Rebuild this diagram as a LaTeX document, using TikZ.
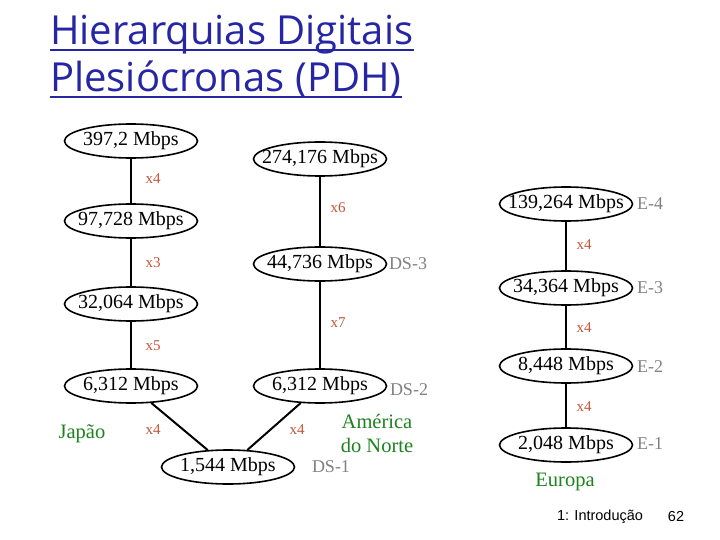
\documentclass[tikz,border=0pt]{standalone}
\usepackage{fontspec}
\setmainfont{Liberation Serif}
\newfontfamily\titlefont{Open Sans}
\newfontfamily\footfont{Liberation Sans}
\usetikzlibrary{shapes.geometric}
\definecolor{titleblue}{RGB}{38,38,165}
\definecolor{mulcol}{RGB}{195,85,55}
\definecolor{stdgray}{RGB}{130,130,130}
\definecolor{regiongreen}{RGB}{30,130,30}
\tikzset{
  rate/.style={ellipse, draw=black, line width=1.6pt, minimum width=133pt, minimum height=34pt, inner xsep=-12pt, inner ysep=-3pt, font=\fontsize{20}{22}\selectfont},
  link/.style={line width=2pt},
  mult/.style={text=mulcol, font=\fontsize{15}{17}\selectfont, inner sep=0pt},
  stdname/.style={text=stdgray, font=\fontsize{18}{20}\selectfont, inner sep=0pt},
  region/.style={text=regiongreen, font=\fontsize{20.5}{24}\selectfont, inner sep=0pt, align=center},
  ttl/.style={text=titleblue, font=\titlefont\fontsize{40}{44}\selectfont, inner sep=0pt, anchor=base west},
  foot/.style={font=\footfont\fontsize{14.5}{16}\selectfont, inner sep=0pt}
}
\begin{document}
\begin{tikzpicture}[x=1pt,y=-1pt]
\useasboundingbox (0,0) rectangle (720,540);
\fill[white] (0,0) rectangle (720,540);
% title
\node[ttl] (t1) at (50,45) {Hierarquias Digitais};
\node[ttl] (t2) at (50,92) {Plesiócronas (PDH)};
\draw[titleblue, line width=2pt] ([yshift=-5pt]t1.base west) -- ([yshift=-5pt]t1.base east);
\draw[titleblue, line width=2pt] ([yshift=-5pt]t2.base west) -- ([yshift=-5pt]t2.base east);
% Japan column
\node[rate] (j4) at (131,141) {397,2 Mbps};
\node[rate] (j3) at (131,221) {97,728 Mbps};
\node[rate] (j2) at (131,304) {32,064 Mbps};
\node[rate] (j1) at (131,386) {6,312 Mbps};
% North America column
\node[rate] (a3) at (320,159) {274,176 Mbps};
\node[rate] (a2) at (320,264) {44,736 Mbps};
\node[rate] (a1) at (320,386) {6,312 Mbps};
% common
\node[rate] (ds1) at (228,467) {1,544 Mbps};
% Europe column
\node[rate] (e4) at (566,204) {139,264 Mbps};
\node[rate] (e3) at (566,288) {34,364 Mbps};
\node[rate] (e2) at (566,366) {8,448 Mbps};
\node[rate] (e1) at (566,445) {2,048 Mbps};
% links
\draw[link] (j4) -- (j3);
\draw[link] (j3) -- (j2);
\draw[link] (j2) -- (j1);
\draw[link] (j1) -- (ds1);
\draw[link] (a3) -- (a2);
\draw[link] (a2) -- (a1);
\draw[link] (a1) -- (ds1);
\draw[link] (e4) -- (e3);
\draw[link] (e3) -- (e2);
\draw[link] (e2) -- (e1);
% multipliers
\node[mult] (m1) at (153,179) {x4};
\node[mult] (m2) at (153,263) {x3};
\node[mult] (m3) at (153,346) {x5};
\node[mult] (m4) at (153,430) {x4};
\node[mult] (m5) at (338,208) {x6};
\node[mult] (m6) at (338,323) {x7};
\node[mult] (m7) at (297,430) {x4};
\node[mult] (m8) at (584,245) {x4};
\node[mult] (m9) at (584,328) {x4};
\node[mult] (m10) at (584,407) {x4};
% standard names
\node[stdname] (s1) at (408,264) {DS-3};
\node[stdname] (s2) at (409,390) {DS-2};
\node[stdname] (s3) at (331,467) {DS-1};
\node[stdname] (s4) at (650,204) {E-4};
\node[stdname] (s5) at (650,288) {E-3};
\node[stdname] (s6) at (650,367) {E-2};
\node[stdname] (s7) at (650,444) {E-1};
% regions
\node[region] (r1) at (82,434) {Japão};
\node[region] (r2) at (377,433) {América\\do Norte};
\node[region] (r3) at (565,482) {Europa};
% footer
\node[foot] (f1) at (600,517) {1: Introdução};
\node[foot] (f2) at (676,517) {62};
\end{tikzpicture}
\end{document}
